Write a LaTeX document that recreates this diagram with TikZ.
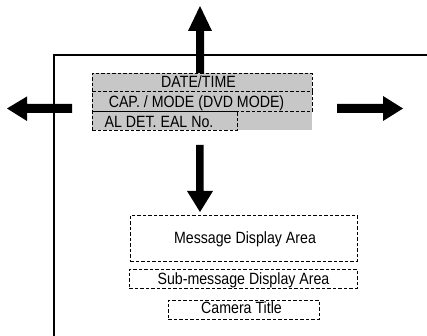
\documentclass[tikz,border=0pt]{standalone}
\usepackage{fontspec}
\setmainfont{Liberation Sans}
\newfontfamily\lblfont[FakeStretch=0.87]{Liberation Sans}
\begin{document}
\begin{tikzpicture}[x=1pt,y=-1pt,
  dbox/.style={draw, dash pattern=on 3.5pt off 2pt, line width=0.7pt, inner sep=0pt, anchor=north west},
  lbl/.style={inner sep=0pt, anchor=base, font=\lblfont\fontsize{16.3}{18}\selectfont},
  fatarrow/.style={fill=black, draw=none},
  frameline/.style={line width=2pt}]
\useasboundingbox (0,0) rectangle (427,336);
% frame
\draw[frameline] (54,336) -- (54,55) -- (427,55);
% gray block
\fill[black!22] (92,73) rectangle (312,130);
\node[dbox, minimum width=220pt, minimum height=18pt] (dt) at (92,73) {};
\node[dbox, minimum width=220pt, minimum height=20pt] (cap) at (92,91) {};
\node[dbox, minimum width=145pt, minimum height=19pt] (al) at (92,111) {};
\node[lbl] (dtt) at (198.5,88) {DATE/TIME};
\node[lbl] (capt) at (196.5,107.3) {CAP. / MODE (DVD MODE)};
\node[lbl] (alt) at (159,127.3) {AL DET. EAL No.};
% lower boxes
\node[dbox, minimum width=227pt, minimum height=46pt] (msg) at (130,215) {};
\node[dbox, minimum width=228pt, minimum height=19pt] (sub) at (129,269) {};
\node[dbox, minimum width=151pt, minimum height=19pt] (cam) at (168,300) {};
\node[lbl] (msgt) at (245,243.3) {Message Display Area};
\node[lbl] (subt) at (243.5,284.3) {Sub-message Display Area};
\node[lbl] (camt) at (241.5,313.5) {Camera Title};
% arrows
\fill[fatarrow] (196,73) -- (196,31) -- (188,31) -- (200,6) -- (212,31) -- (204,31) -- (204,73) -- cycle;
\fill[fatarrow] (72,104) -- (27,104) -- (27,96.5) -- (7,108.5) -- (27,121) -- (27,113) -- (72,113) -- cycle;
\fill[fatarrow] (337,104) -- (383,104) -- (383,96) -- (403,108.5) -- (383,121) -- (383,113) -- (337,113) -- cycle;
\fill[fatarrow] (196,145) -- (196,191) -- (187,191) -- (200,212) -- (213,191) -- (203.5,191) -- (203.5,145) -- cycle;
\end{tikzpicture}
\end{document}
